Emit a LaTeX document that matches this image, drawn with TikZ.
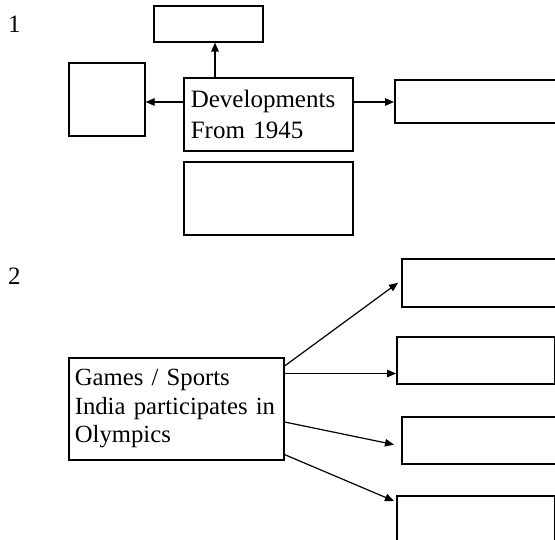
\documentclass[tikz,border=0pt]{standalone}
\usepackage{fontspec}
\setmainfont{Liberation Serif}
\usetikzlibrary{arrows.meta}
\begin{document}
\begin{tikzpicture}[x=1pt,y=-1pt,
  box/.style={draw=black, line width=1.6pt, rectangle, inner sep=0pt, anchor=north west},
  txtA/.style={font=\fontsize{25}{31}\selectfont, align=left, text width=155pt, inner xsep=7pt, inner ysep=0pt},
  txtB/.style={font=\fontsize{24.7}{28.5}\selectfont, align=left, text width=203pt, inner xsep=6pt, inner ysep=0pt},
  conn/.style={line width=1.2pt, -{Triangle[length=9pt,width=7.5pt]}},
  lbl/.style={font=\fontsize{25}{30}\selectfont, anchor=base west, inner sep=0pt}]
\clip (0,0) rectangle (555,540);
\useasboundingbox (0,0) rectangle (555,540);
% labels
\node[lbl] (n1) at (8,33) {1};
\node[lbl] (n2) at (8,285) {2};
% section 1
\node[box, minimum width=109pt, minimum height=36pt] (top) at (153,5) {};
\node[box, minimum width=76pt, minimum height=73pt] (left) at (68,62) {};
\node[box, txtA, minimum width=169pt, minimum height=73pt] (dev) at (183,77) {Developments\\From 1945};
\node[box, minimum width=169pt, minimum height=73pt] (bottom) at (183,161) {};
\node[box, minimum width=190pt, minimum height=43pt] (right) at (394,79) {};
\coordinate (cu) at ([xshift=32pt]dev.north west);
\draw[conn] (cu) -- (cu |- top.south);
\coordinate (cl) at ([yshift=-25pt]dev.north west);
\draw[conn] (cl) -- (cl -| left.east);
\coordinate (cr) at ([yshift=-25pt]dev.north east);
\draw[conn] (cr) -- (cr -| right.west);
% section 2
\node[box, txtB, minimum width=215pt, minimum height=102pt] (games) at (68,357) {Games / Sports\\India participates in\\Olympics};
\node[box, minimum width=190pt, minimum height=48pt] (ba) at (401,258) {};
\node[box, minimum width=158pt, minimum height=47pt] (bb) at (396,336) {};
\node[box, minimum width=190pt, minimum height=47pt] (bc) at (401,416) {};
\node[box, minimum width=158pt, minimum height=65pt] (bd) at (396,495) {};
\coordinate (g1) at ([yshift=-9pt]games.north east);
\draw[conn] (g1) -- ([xshift=-3pt]ba.west);
\coordinate (g2) at ([yshift=-16.5pt]games.north east);
\draw[conn] (g2) -- (g2 -| bb.west);
\coordinate (g3) at ([yshift=-65pt]games.north east);
\draw[conn] (g3) -- ([xshift=-7pt,yshift=20pt]bc.south west);
\coordinate (g4) at ([yshift=6pt]games.south east);
\draw[conn] (g4) -- ([xshift=-2pt,yshift=-6pt]bd.north west);
\end{tikzpicture}
\end{document}
